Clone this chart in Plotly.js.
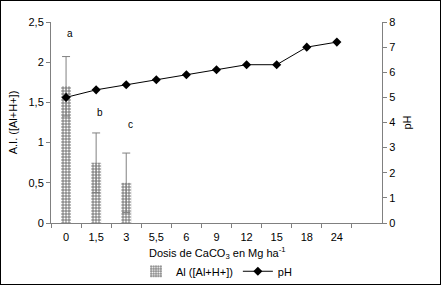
<!DOCTYPE html>
<html><head><meta charset="utf-8">
<script src="https://cdn.plot.ly/plotly-3.0.1.min.js"></script>
<style>
html,body{margin:0;padding:0;background:#fff;}
#chart{width:439px;height:283px;border:1px solid #000;}
</style></head>
<body><div id="chart"></div>
<script>
const categories = ['0','1,5','3','5,5','6','9','12','15','18','24'];
const alValues = [1.7, 0.75, 0.5];
const alErrors = [0.37, 0.37, 0.37];
const alLetters = ['a','b','c'];
const alLetterY = [2.36, 1.37, 1.23];
const phValues = [5.0, 5.3, 5.5, 5.7, 5.9, 6.1, 6.3, 6.3, 7.0, 7.2];

const font = {family:'Liberation Sans, Arial, sans-serif', size:11, color:'#000'};

const traces = [
  {
    type:'bar', name:'Al ([Al+H+])',
    x: categories.slice(0, alValues.length), y: alValues,
    width: 0.33,
    marker:{color:'#8c8c8c', line:{width:0},
      pattern:{shape:'.', bgcolor:'#8c8c8c', fgcolor:'#ffffff', size:3, solidity:0.35}},
    error_y:{type:'data', array: alErrors, visible:true, color:'#808080', thickness:1, width:4}
  },
  {
    type:'scatter', mode:'lines+markers', name:'pH', yaxis:'y2',
    x: categories, y: phValues,
    line:{color:'#000', width:1},
    marker:{symbol:'diamond', size:7, color:'#000'}
  }
];

const annotations = alLetters.map((t,i)=>({
  x: i, y: alLetterY[i], xref:'x', yref:'y', text:t, showarrow:false,
  xshift:4, font:{family:font.family, size:10, color:'#000'}
}));
annotations.push({
  x:0.5, y:-0.148, xref:'paper', yref:'paper', xanchor:'center', yanchor:'middle',
  text:'Dosis de CaCO<sub>3</sub> en Mg ha<sup>-1</sup>', showarrow:false, font:font
});

const layout = {
  width:439, height:283,
  margin:{l:50, r:58, t:21, b:61, autoexpand:false},
  separators:',.',
  paper_bgcolor:'#fff', plot_bgcolor:'#fff',
  font: font,
  showlegend:true,
  legend:{orientation:'h', x:0.5, xanchor:'center', xref:'paper', y:0.045, yref:'container', yanchor:'middle', font:font,
    tracegroupgap:0},
  xaxis:{type:'category', range:[-0.5, 10.5], showline:true, linecolor:'#808080', linewidth:1,
    ticks:'outside', tickson:'boundaries', ticklen:4, tickcolor:'#808080', showgrid:false, zeroline:false,
    tickfont:font, ticklabelstandoff:4},
  yaxis:{range:[0,2.5], dtick:0.5, showline:true, linecolor:'#808080', linewidth:1,
    ticks:'outside', ticklen:4, tickcolor:'#808080', showgrid:false, zeroline:false, tickfont:font,
    title:{text:'A.I. ([Al+H+])', font:font, standoff:8}},
  yaxis2:{range:[0,8], dtick:1, overlaying:'y', side:'right', showline:true, linecolor:'#808080', linewidth:1,
    ticks:'outside', ticklen:4, tickcolor:'#808080', showgrid:false, zeroline:false, tickfont:font,
    title:{text:'pH', font:font, standoff:8}},
  annotations: annotations
};

Plotly.newPlot('chart', traces, layout, {displayModeBar:false, staticPlot:true});
</script></body></html>
